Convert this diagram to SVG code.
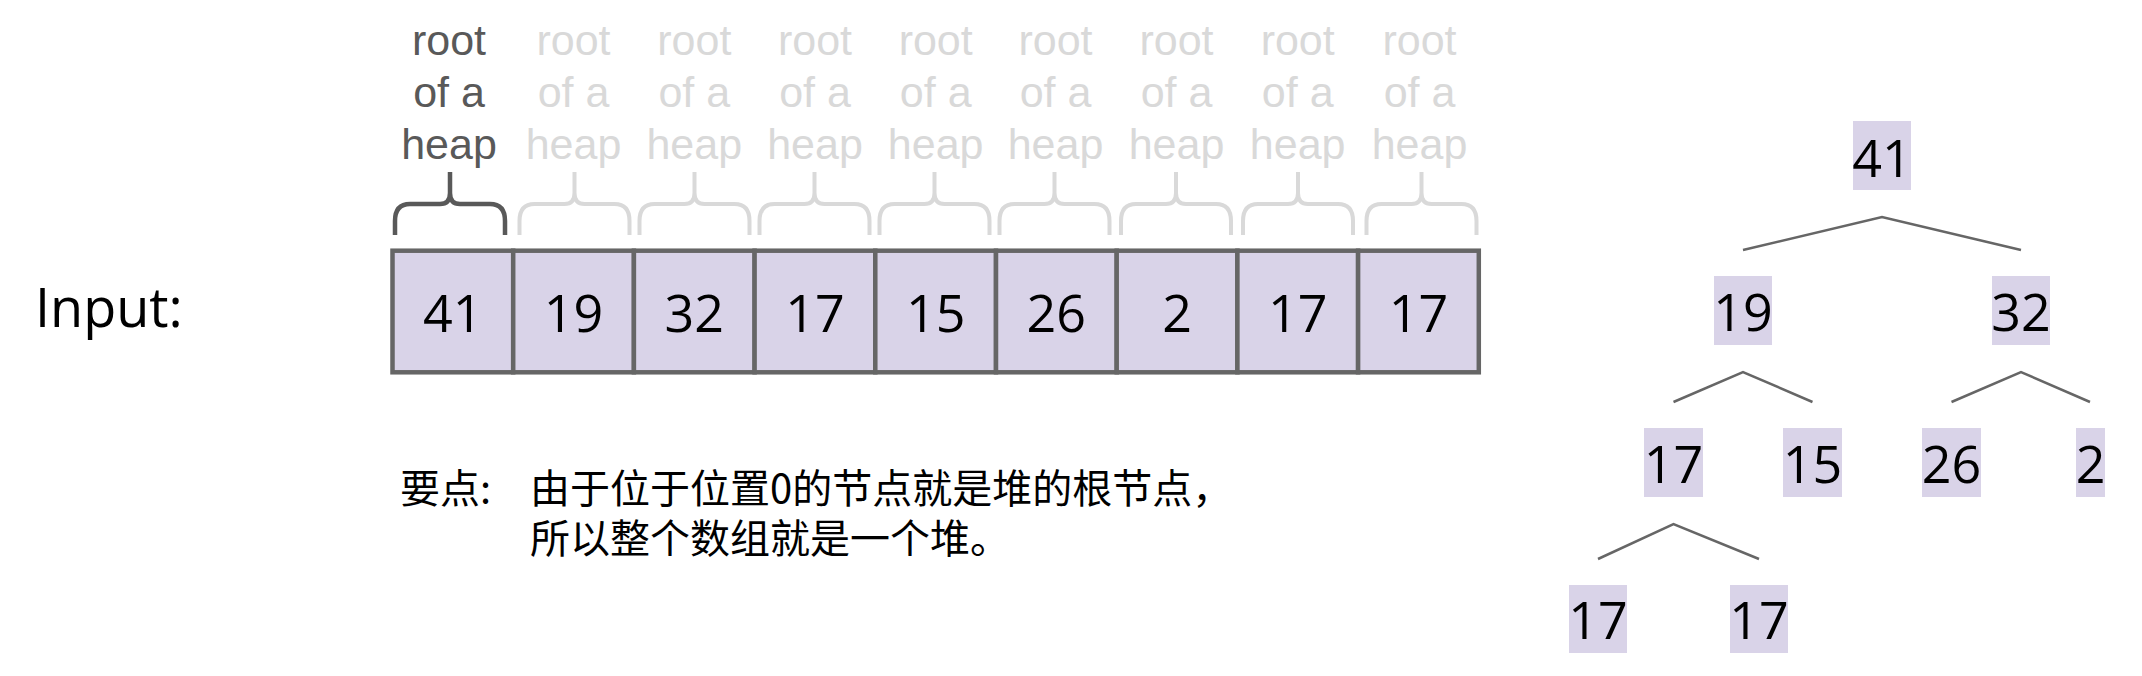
<svg xmlns="http://www.w3.org/2000/svg" xmlns:xlink="http://www.w3.org/1999/xlink" width="2142" height="676" viewBox="0 0 2142 676">
<style>
.cell{fill:#D9D3E8;stroke:#666666;stroke-width:4.5}
.num{font-family:"Open Sans","Noto Sans",sans-serif;font-size:52px;fill:#000;text-anchor:middle}
.tbox{fill:#D9D3E8}
.lbl{font-family:"Liberation Sans",Arial,sans-serif;font-size:43px;text-anchor:middle}
.dark{fill:#595959}
.light{fill:#D9D9D9}
.bd{fill:none;stroke:#595959;stroke-width:4.5}
.bl{fill:none;stroke:#D9D9D9;stroke-width:4}
.edge{fill:none;stroke:#666666;stroke-width:2.5}
.cn{font-family:"Noto Sans CJK SC","Microsoft YaHei",sans-serif;font-size:40px;fill:#000}
</style>
<defs>
<path id="brace" d="M-55 235 V221 Q-55 204 -40 204 H-10 Q0 204 0 193 V172 M0 193 Q0 204 10 204 H40 Q55 204 55 221 V235"/>
</defs>
<rect width="2142" height="676" fill="#fff"/>

<g id="input-label"><text x="35" y="327" font-family="'Open Sans','Noto Sans',sans-serif" font-size="54" fill="#000">Input:</text></g>

<g id="labels">
<g id="label0"><use xlink:href="#brace" href="#brace" x="450" class="bd"/><text class="lbl dark" x="449" y="55">root</text><text class="lbl dark" x="449" y="107">of a</text><text class="lbl dark" x="449" y="159">heap</text></g>
<g id="label1"><use xlink:href="#brace" href="#brace" x="574.5" class="bl"/><text class="lbl light" x="573.5" y="55">root</text><text class="lbl light" x="573.5" y="107">of a</text><text class="lbl light" x="573.5" y="159">heap</text></g>
<g id="label2"><use xlink:href="#brace" href="#brace" x="694.5" class="bl"/><text class="lbl light" x="694.3" y="55">root</text><text class="lbl light" x="694.3" y="107">of a</text><text class="lbl light" x="694.3" y="159">heap</text></g>
<g id="label3"><use xlink:href="#brace" href="#brace" x="814.5" class="bl"/><text class="lbl light" x="815" y="55">root</text><text class="lbl light" x="815" y="107">of a</text><text class="lbl light" x="815" y="159">heap</text></g>
<g id="label4"><use xlink:href="#brace" href="#brace" x="934.5" class="bl"/><text class="lbl light" x="935.7" y="55">root</text><text class="lbl light" x="935.7" y="107">of a</text><text class="lbl light" x="935.7" y="159">heap</text></g>
<g id="label5"><use xlink:href="#brace" href="#brace" x="1054.5" class="bl"/><text class="lbl light" x="1055.5" y="55">root</text><text class="lbl light" x="1055.5" y="107">of a</text><text class="lbl light" x="1055.5" y="159">heap</text></g>
<g id="label6"><use xlink:href="#brace" href="#brace" x="1176" class="bl"/><text class="lbl light" x="1176.5" y="55">root</text><text class="lbl light" x="1176.5" y="107">of a</text><text class="lbl light" x="1176.5" y="159">heap</text></g>
<g id="label7"><use xlink:href="#brace" href="#brace" x="1298" class="bl"/><text class="lbl light" x="1297.7" y="55">root</text><text class="lbl light" x="1297.7" y="107">of a</text><text class="lbl light" x="1297.7" y="159">heap</text></g>
<g id="label8"><use xlink:href="#brace" href="#brace" x="1421.5" class="bl"/><text class="lbl light" x="1419.5" y="55">root</text><text class="lbl light" x="1419.5" y="107">of a</text><text class="lbl light" x="1419.5" y="159">heap</text></g>
</g>

<g id="array">
<g id="cell0"><rect class="cell" x="392.5" y="250.7" width="120.7" height="121.6"/><text class="num" x="452.85" y="331.7">41</text></g>
<g id="cell1"><rect class="cell" x="513.2" y="250.7" width="120.7" height="121.6"/><text class="num" x="573.55" y="331.7">19</text></g>
<g id="cell2"><rect class="cell" x="633.9" y="250.7" width="120.7" height="121.6"/><text class="num" x="694.25" y="331.7">32</text></g>
<g id="cell3"><rect class="cell" x="754.6" y="250.7" width="120.7" height="121.6"/><text class="num" x="814.95" y="331.7">17</text></g>
<g id="cell4"><rect class="cell" x="875.3" y="250.7" width="120.7" height="121.6"/><text class="num" x="935.65" y="331.7">15</text></g>
<g id="cell5"><rect class="cell" x="996" y="250.7" width="120.7" height="121.6"/><text class="num" x="1056.35" y="331.7">26</text></g>
<g id="cell6"><rect class="cell" x="1116.7" y="250.7" width="120.7" height="121.6"/><text class="num" x="1177.05" y="331.7">2</text></g>
<g id="cell7"><rect class="cell" x="1237.4" y="250.7" width="120.7" height="121.6"/><text class="num" x="1297.75" y="331.7">17</text></g>
<g id="cell8"><rect class="cell" x="1358.1" y="250.7" width="120.7" height="121.6"/><text class="num" x="1418.45" y="331.7">17</text></g>
</g>

<g id="note">
<text class="cn" x="400" y="503">要点:</text>
<text class="cn"><tspan x="530" y="503">由于位于位置0的节点就是堆的根节点，</tspan><tspan x="530" y="553">所以整个数组就是一个堆。</tspan></text>
</g>

<g id="connectors">
<polyline class="edge" points="1743,250 1882,217 2021,250"/>
<polyline class="edge" points="1673.5,402 1743,372 1812.5,402"/>
<polyline class="edge" points="1951.5,402 2021,372 2090,402"/>
<polyline class="edge" points="1598,559 1673.5,524 1759,559"/>
</g>

<g id="tree">
<g id="t41"><rect class="tbox" x="1853" y="121" width="58" height="69"/><text class="num" x="1882" y="176.7">41</text></g>
<g id="t19"><rect class="tbox" x="1714" y="276" width="58" height="69"/><text class="num" x="1743" y="330.7">19</text></g>
<g id="t32"><rect class="tbox" x="1992" y="276" width="58" height="69"/><text class="num" x="2021" y="330.7">32</text></g>
<g id="t17a"><rect class="tbox" x="1644" y="428" width="59" height="69"/><text class="num" x="1673.5" y="482.7">17</text></g>
<g id="t15"><rect class="tbox" x="1783" y="428" width="59" height="69"/><text class="num" x="1812.5" y="482.7">15</text></g>
<g id="t26"><rect class="tbox" x="1922" y="428" width="59" height="69"/><text class="num" x="1951.5" y="482.7">26</text></g>
<g id="t2"><rect class="tbox" x="2076" y="428" width="29" height="69"/><text class="num" x="2090.5" y="482.7">2</text></g>
<g id="t17b"><rect class="tbox" x="1569" y="585" width="58" height="68"/><text class="num" x="1598" y="639.3">17</text></g>
<g id="t17c"><rect class="tbox" x="1730" y="585" width="58" height="68"/><text class="num" x="1759" y="639.3">17</text></g>
</g>
</svg>
